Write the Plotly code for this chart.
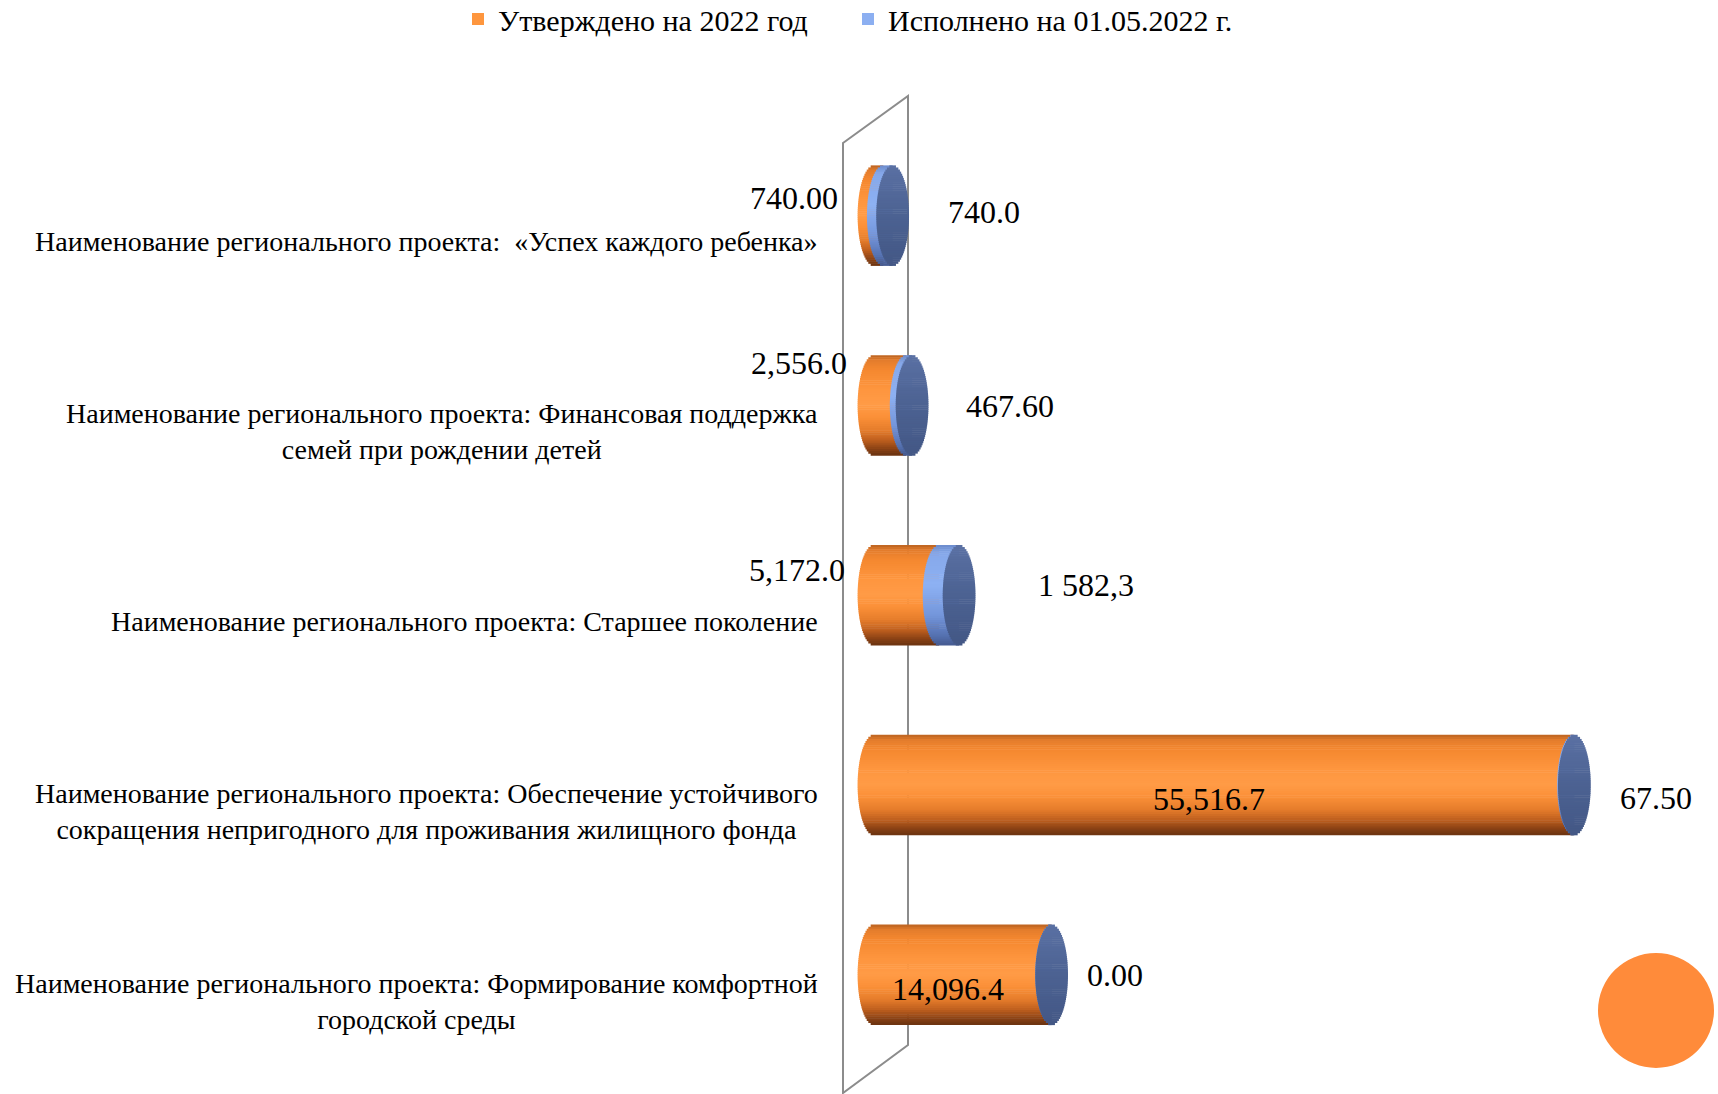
import math
import plotly.graph_objects as go

# ---------------- data ----------------
categories = [
    "Наименование регионального проекта:  «Успех каждого ребенка»",
    "Наименование регионального проекта: Финансовая поддержка<br>семей при рождении детей",
    "Наименование регионального проекта: Старшее поколение",
    "Наименование регионального проекта: Обеспечение устойчивого<br>сокращения непригодного для проживания жилищного фонда",
    "Наименование регионального проекта: Формирование комфортной<br>городской среды",
]
approved = [740.0, 2556.0, 5172.0, 55516.7, 14096.4]
executed = [740.0, 467.6, 1582.3, 67.5, 0.0]
approved_labels = ["740.00", "2,556.0", "5,172.0", "55,516.7", "14,096.4"]
executed_labels = ["740.0", "467.60", "1 582,3", "67.50", "0.00"]
series_names = ["Утверждено на 2022 год", "Исполнено на 01.05.2022 г."]

# ---------------- layout / style ----------------
W, H = 1718, 1094
ML, MR, MT, MB = 840, 20, 121, 24
X_RANGE = [-2698, 65397]
BAR_W = 0.527          # bar thickness in category units
HW = 1300              # half width of the elliptic cylinder caps (x units)
N = 48                 # strips used for the cylinder shading
FONT = "Liberation Serif"

ORANGE_STOPS = [(0.0, "#B9611F"), (0.05, "#E37C2C"), (0.15, "#F5882F"), (0.35, "#FE963F"),
                (0.50, "#FF9B46"), (0.62, "#FB9038"), (0.75, "#E57C2B"), (0.85, "#BF5F1E"),
                (0.93, "#8E4415"), (1.0, "#6A3210")]
BLUE_STOPS = [(0.0, "#6A8ACB"), (0.08, "#86A8EA"), (0.4, "#8DB1F3"), (0.7, "#7496DB"),
              (0.9, "#5672B2"), (1.0, "#455B90")]
CAP_STOPS = [(0.0, "#5A70A3"), (0.5, "#4C6292"), (1.0, "#435785")]

# label offsets in pixels (dx, dy)
approved_shift = [(-34, 18), (-25, 43), (-27, 26), (-15, -14), (-15, -14)]
executed_shift = [(53, 4), (52, 0), (77, 11), (44, -13), (33, 0)]


def hex2rgb(h):
    h = h.lstrip("#")
    return tuple(int(h[i:i + 2], 16) for i in (0, 2, 4))


def grad(stops, t):
    for (p0, c0), (p1, c1) in zip(stops[:-1], stops[1:]):
        if p0 <= t <= p1:
            f = 0 if p1 == p0 else (t - p0) / (p1 - p0)
            a, b = hex2rgb(c0), hex2rgb(c1)
            return "rgb(%d,%d,%d)" % tuple(round(a[i] + (b[i] - a[i]) * f) for i in range(3))
    return stops[-1][1]


n = len(categories)
ypos = [n - 1 - i for i in range(n)]
totals = [a + e for a, e in zip(approved, executed)]

fig = go.Figure()
step = BAR_W / N
eps = step * 0.25
legend_row = int(N * 0.35)

groups = []
for k in range(N):
    tc = -1 + (2 * k + 1) / N
    s = math.sqrt(max(0.0, 1 - tc * tc))
    t01 = (tc + 1) / 2
    off = BAR_W / 2 - (k + 1) * step
    groups.append((k, s, t01, off))

# orange body (approved)
for k, s, t01, off in groups:
    fig.add_trace(go.Bar(
        orientation="h", y=ypos,
        x=[a + HW * s for a in approved], base=[-HW * s] * n,
        width=step + eps, offset=off,
        marker=dict(color=grad(ORANGE_STOPS, t01), line=dict(width=0)),
        name=series_names[0], showlegend=(k == legend_row), hoverinfo="skip",
    ))
# blue body (executed), stacked after approved
for k, s, t01, off in groups:
    fig.add_trace(go.Bar(
        orientation="h", y=ypos,
        x=[e + HW * s for e in executed], base=[a - HW * s for a in approved],
        width=step + eps, offset=off,
        marker=dict(color=grad(BLUE_STOPS, t01), line=dict(width=0)),
        name=series_names[1], showlegend=(k == legend_row), hoverinfo="skip",
    ))
# end cap (ellipse) at the end of each stack
for k, s, t01, off in groups:
    fig.add_trace(go.Bar(
        orientation="h", y=ypos,
        x=[2 * HW * s] * n, base=[t - HW * s for t in totals],
        width=step + eps, offset=off,
        marker=dict(color=grad(CAP_STOPS, t01), line=dict(width=0)),
        showlegend=False, hoverinfo="skip",
    ))

annotations = []
plot_w = W - ML - MR
plot_h = H - MT - MB

# category labels
for i, c in enumerate(categories):
    annotations.append(dict(
        text=c, xref="paper", yref="y", x=(820 - ML) / plot_w, y=ypos[i], yshift=-26,
        xanchor="right", yanchor="middle", align="center", showarrow=False,
        font=dict(family=FONT, size=28, color="black"),
    ))
# approved value labels
for i, lab in enumerate(approved_labels):
    dx, dy = approved_shift[i]
    inside = approved[i] > 10000
    annotations.append(dict(
        text=lab, xref="x", yref="y",
        x=approved[i] / 2 if inside else 0, y=ypos[i], xshift=dx, yshift=dy,
        xanchor="center" if inside else "right", yanchor="middle", showarrow=False,
        font=dict(family=FONT, size=32, color="black"),
    ))
# executed value labels
for i, lab in enumerate(executed_labels):
    dx, dy = executed_shift[i]
    annotations.append(dict(
        text=lab, xref="x", yref="y", x=totals[i], y=ypos[i], xshift=dx, yshift=dy,
        xanchor="left", yanchor="middle", showarrow=False,
        font=dict(family=FONT, size=32, color="black"),
    ))


def px2paper(px, py):
    return (px - ML) / plot_w, (H - MB - py) / plot_h


# back wall (3D side wall drawn as a parallelogram)
wall_px = [(843, 143), (908, 96), (908, 1045), (843, 1093)]
pts = [px2paper(x, y) for x, y in wall_px]
path = "M " + " L ".join("%.5f,%.5f" % p for p in pts) + " Z"
shapes = [dict(type="path", xref="paper", yref="paper", path=path,
               line=dict(color="#8C8C8C", width=2), fillcolor="rgba(0,0,0,0)", layer="below")]
# decorative orange circle
cx0, cy0 = px2paper(1598, 1068)
cx1, cy1 = px2paper(1714, 953)
shapes.append(dict(type="circle", xref="paper", yref="paper", x0=cx0, y0=cy0, x1=cx1, y1=cy1,
                   fillcolor="#FF8B3A", line=dict(width=0), layer="above"))

fig.update_layout(
    width=W, height=H,
    margin=dict(l=ML, r=MR, t=MT, b=MB),
    paper_bgcolor="white", plot_bgcolor="white",
    barmode="overlay",
    xaxis=dict(range=X_RANGE, visible=False, fixedrange=True),
    yaxis=dict(range=[-0.5, n - 0.5], visible=False, fixedrange=True),
    showlegend=True,
    legend=dict(orientation="h", xref="container", yref="container",
                x=458 / W, y=1 - 19 / H, xanchor="left", yanchor="middle",
                entrywidth=345, entrywidthmode="pixels",
                font=dict(family=FONT, size=30, color="black"),
                bgcolor="rgba(0,0,0,0)", traceorder="normal"),
    annotations=annotations,
    shapes=shapes,
    hovermode=False,
)

fig.write_html(
    "out.html",
    config={"displayModeBar": False},
    post_script="document.body.style.margin='0px';document.body.style.overflow='hidden';",
)
